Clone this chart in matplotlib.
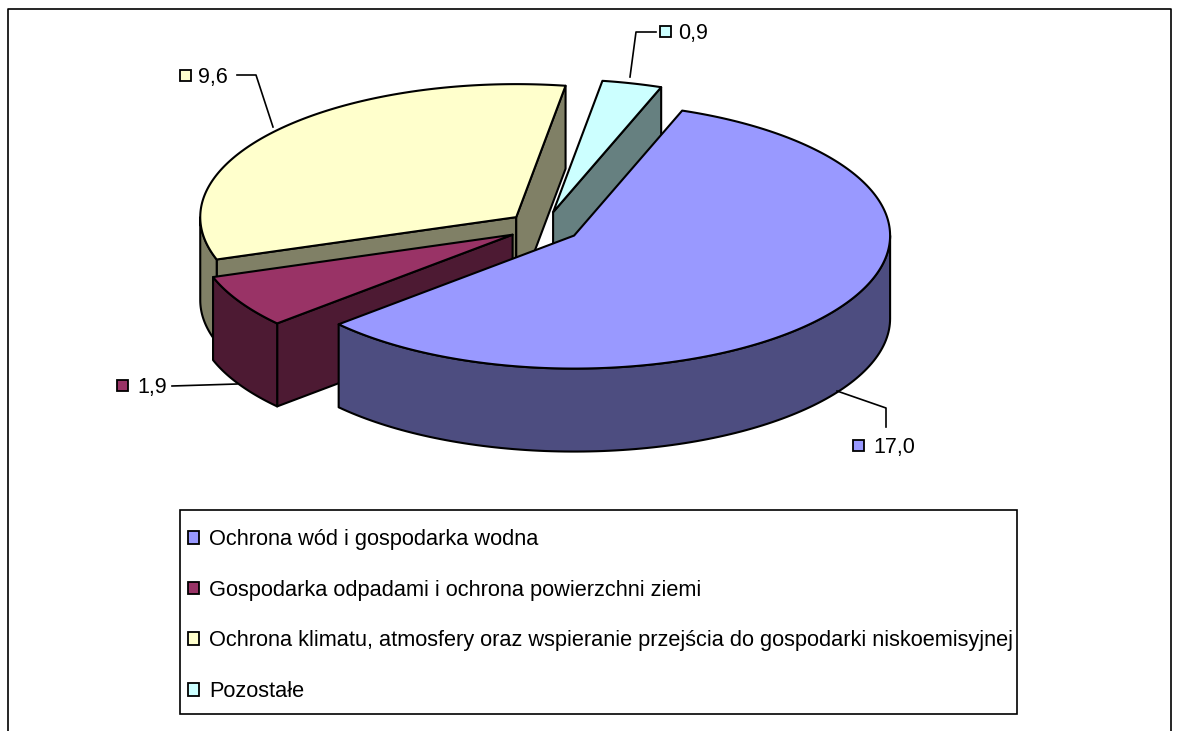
import numpy as np
import matplotlib
matplotlib.use("Agg")
import matplotlib.pyplot as plt
from matplotlib.patches import Patch, Polygon, Rectangle

plt.rcParams["font.family"] = ["Liberation Sans", "DejaVu Sans"]

# data
categories = [
    "Ochrona wód i gospodarka wodna",
    "Gospodarka odpadami i ochrona powierzchni ziemi",
    "Ochrona klimatu, atmosfery oraz wspieranie przejścia do gospodarki niskoemisyjnej",
    "Pozostałe",
]
values = [17.0, 1.9, 9.6, 0.9]
value_labels = ["17,0", "1,9", "9,6", "0,9"]
top_colors = ["#9999FF", "#993366", "#FFFFCC", "#CCFFFF"]
side_colors = ["#4D4D80", "#4D1A33", "#808066", "#668080"]

# pie geometry in pixels
cx, cy = 544, 227
rx, ry = 316, 133
depth = 83
explode = 0.115
start_angle = 70


def edge(t_deg, ox, oy, dy=0):
    t = np.radians(t_deg)
    return np.column_stack([ox + rx * np.cos(t), oy - ry * np.sin(t) + dy])


def draw_slice(ax, t0, t1, top, side):
    # t0 > t1, clockwise
    mid_deg = (t0 + t1) / 2
    mid = np.radians(mid_deg)
    ox = cx + explode * rx * np.cos(mid)
    oy = cy - explode * ry * np.sin(mid)
    style = dict(edgecolor="black", linewidth=1.5, joinstyle="round")
    m = edge(np.array([mid_deg]), ox, oy)[0]

    # radial walls, skip the ones that face away
    for t in (t0, t1):
        p = edge(np.array([t]), ox, oy)[0]
        cross = (p[0] - ox) * (m[1] - oy) - (p[1] - oy) * (m[0] - ox)
        if cross * np.sign(p[0] - ox) < 0:
            ax.add_patch(Polygon([(ox, oy), p, (p[0], p[1] + depth), (ox, oy + depth)],
                                 facecolor=side, **style))

    # outer wall, only the part that faces the viewer
    lo, hi = max(t1, 180), min(t0, 360)
    if hi > lo:
        ts = np.linspace(lo, hi, 120)
        up = edge(ts, ox, oy)
        down = edge(ts, ox, oy, depth)
        ax.add_patch(Polygon(np.vstack([up, down[::-1]]), facecolor=side, **style))

    # top face
    ts = np.linspace(t0, t1, 240)
    ax.add_patch(Polygon(np.vstack([[(ox, oy)], edge(ts, ox, oy)]), facecolor=top, **style))


fig = plt.figure(figsize=(11.8, 7.31), dpi=100)
ax = fig.add_axes([0, 0, 1, 1])
ax.set_xlim(0, 1180)
ax.set_ylim(731, 0)
ax.axis("off")

# outer frame, the bottom edge is cut off in the source
ax.plot([8, 8, 1171, 1171], [731, 9, 9, 731], color="black", lw=1.2)

# slice angles from the values, clockwise from the start angle
spans = np.array(values) / sum(values) * 360
ends = start_angle + 360 - np.cumsum(spans)
starts = np.concatenate([[start_angle + 360], ends[:-1]])

# back to front
for i in [3, 2, 1, 0]:
    draw_slice(ax, starts[i], ends[i], top_colors[i], side_colors[i])

# leader lines and data labels
leaders = [
    [(837, 391), (886, 408), (886, 427)],
    [(237, 384), (172, 386)],
    [(273, 127), (256, 75), (237, 75)],
    [(630, 77), (636, 32), (656, 32)],
]
key_pos = [(853, 440), (117, 380), (180, 70), (660, 26)]
label_gap = [20, 20, 18, 18]
for i in range(4):
    xs, ys = zip(*leaders[i])
    ax.plot(xs, ys, color="black", lw=1.2)
    kx, ky = key_pos[i]
    ax.add_patch(Rectangle((kx, ky), 11, 11, facecolor=top_colors[i], edgecolor="black", lw=1.3))
    ax.text(kx + label_gap[i], ky + 5.5, value_labels[i], fontsize=15.5, va="center_baseline", ha="left")

# legend frame is separate so the rows can sit where they do in the source
ax.add_patch(Rectangle((180, 510), 837, 204, facecolor="white", edgecolor="black", lw=1.2, zorder=4))
handles = [Patch(facecolor=c, edgecolor="black", linewidth=1.3) for c in top_colors]
leg = ax.legend(
    handles, categories,
    loc="upper left",
    bbox_to_anchor=(188 / 1180, 1 - 529 / 731),
    ncol=1,
    fontsize=15.7,
    frameon=False,
    borderaxespad=0,
    borderpad=0,
    labelspacing=1.36,
    handlelength=0.52,
    handleheight=0.52,
    handletextpad=0.46,
)
leg.set_zorder(5)

fig.savefig("out.png", dpi=100)
